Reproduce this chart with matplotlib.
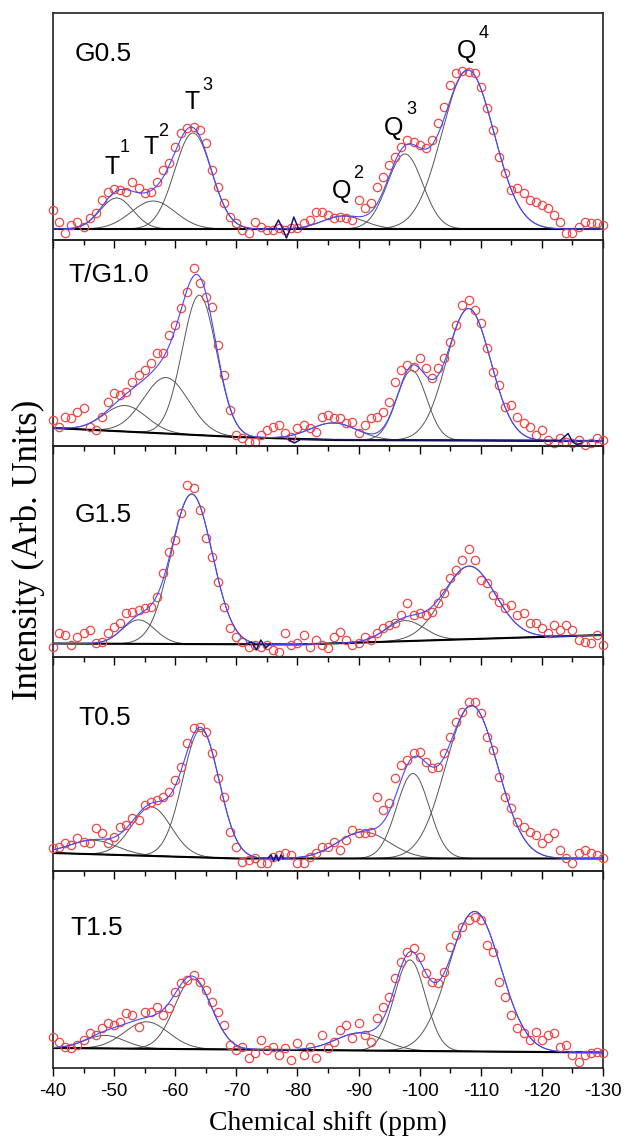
import numpy as np
import matplotlib.pyplot as plt
from matplotlib.ticker import MultipleLocator

plt.rcParams['font.family'] = ['Liberation Sans', 'DejaVu Sans']
plt.rcParams['axes.unicode_minus'] = False

# chemical shift of the sampled points (ppm)
ppm = np.arange(-40, -131, -1)

# measured spectra (arb. units), one value per ppm from -40 to -130
g05 = [30, 18, 7, 15, 18, 13, 22, 27, 40, 48,
       51, 50, 48, 58, 52, 47, 48, 58, 70, 77,
       93, 107, 112, 113, 110, 97, 70, 53, 37, 23,
       17, 10, 7, 18, 13, 10, 10, 12, 10, 12,
       12, 17, 20, 28, 28, 25, 22, 23, 22, 20,
       40, 32, 37, 53, 63, 75, 83, 93, 100, 98,
       95, 92, 100, 117, 133, 155, 167, 169, 168, 167,
       153, 132, 110, 83, 67, 50, 52, 47, 40, 38,
       35, 32, 25, 18, 7, 7, 13, 18, 17, 17,
       15]
tg10 = [26, 19, 29, 28, 34, 38, 19, 16, 29, 44,
        53, 51, 54, 64, 71, 76, 83, 93, 93, 111,
        121, 138, 154, 178, 163, 149, 139, 101, 71, 36,
        11, 8, 4, 4, 11, 16, 19, 21, 13, 9,
        18, 21, 18, 14, 29, 31, 28, 28, 23, 24,
        13, 21, 28, 29, 34, 44, 64, 76, 81, 79,
        88, 78, 68, 78, 88, 104, 121, 141, 146, 136,
        123, 98, 74, 61, 39, 41, 29, 23, 19, 11,
        16, 6, 3, 8, 4, 3, 6, 1, 3, 8,
        6]
g15 = [10, 24, 22, 12, 20, 24, 27, 14, 15, 24,
       30, 34, 44, 45, 47, 49, 50, 60, 84, 105,
       117, 144, 172, 169, 147, 119, 100, 75, 50, 29,
       20, 15, 10, 12, 10, 12, 7, 5, 24, 12,
       14, 22, 10, 17, 12, 9, 20, 25, 17, 12,
       14, 20, 17, 24, 29, 32, 34, 42, 54, 42,
       44, 42, 45, 54, 64, 79, 87, 97, 108, 97,
       77, 74, 62, 55, 49, 52, 42, 44, 34, 34,
       29, 24, 32, 27, 32, 27, 17, 15, 14, 22,
       12]
t05 = [23, 24, 28, 26, 33, 29, 28, 43, 38, 28,
       34, 44, 46, 53, 51, 66, 69, 71, 74, 79,
       91, 104, 128, 143, 144, 139, 118, 93, 74, 39,
       24, 9, 11, 13, 8, 8, 14, 16, 18, 16,
       8, 8, 14, 18, 24, 24, 29, 21, 31, 41,
       38, 38, 39, 74, 61, 68, 93, 106, 111, 118,
       119, 109, 103, 104, 118, 134, 149, 159, 169, 169,
       158, 134, 121, 94, 74, 63, 49, 44, 39, 36,
       28, 33, 38, 21, 13, 8, 18, 21, 18, 16,
       13]
t15 = [31, 26, 21, 20, 23, 28, 35, 33, 40, 45,
       43, 46, 55, 53, 41, 56, 56, 61, 53, 60,
       76, 85, 88, 93, 86, 78, 66, 56, 43, 23,
       18, 21, 10, 15, 28, 18, 21, 13, 20, 8,
       25, 13, 21, 10, 33, 20, 26, 38, 43, 30,
       45, 33, 26, 50, 61, 71, 90, 106, 116, 120,
       111, 95, 86, 85, 96, 121, 133, 141, 148, 151,
       148, 123, 116, 86, 71, 53, 40, 35, 28, 36,
       28, 33, 35, 21, 23, 13, 6, 13, 15, 16,
       15]

# fitted components: centre (ppm), height above baseline, FWHM (ppm)
g05_pos = [-50.4, -56.4, -62.9, -87.5, -97.6, -107.9]
g05_amp = [31, 28, 96, 13, 75, 159]
g05_fw = [6.3, 8.5, 7.1, 8.0, 6.8, 10.0]
tg10_pos = [-51.8, -58.5, -63.95, -85.9, -98.7, -108.0]
tg10_amp = [26, 56, 140, 17, 70, 132]
tg10_fw = [8.2, 8.7, 6.6, 9.0, 5.7, 8.5]
g15_pos = [-54.0, -62.7, -97.6, -108.1]
g15_amp = [24, 150, 20.5, 73]
g15_fw = [6.3, 7.9, 7.4, 10.0]
t05_pos = [-46.6, -56.1, -64.2, -90.8, -98.9, -108.5]
t05_amp = [14, 49, 128, 26.6, 85, 153]
t05_fw = [9.0, 7.6, 7.0, 10.0, 6.3, 10.0]
t15_pos = [-48.5, -55.3, -62.9, -90.2, -98.4, -109.0]
t15_amp = [13, 27, 70, 17.5, 91, 140]
t15_fw = [7.6, 8.5, 7.1, 9.3, 6.0, 10.0]

# baselines (vertices)
g05_bx, g05_by = [-40, -130], [11, 11]
tg10_bx, tg10_by = [-40, -70, -86, -130], [18, 9, 6, 5]
g15_bx, g15_by = [-40, -80, -130], [13.5, 12.5, 22]
t05_bx, t05_by = [-40, -70, -130], [18, 12.5, 12.5]
t15_bx, t15_by = [-40, -130], [20, 15.5]

# spikes in the fitted trace
g05_wx = [-75.5, -76.1, -76.9, -77.6, -78.2, -78.8, -79.4, -80.2, -81]
g05_wy = [11, 11, 20, 11, 2, 11, 23, 11, 11]
tg10_wx = [-78.5, -79.5, -80.5, -123, -124.3, -125, -125.7, -126.5]
tg10_wy = [6.5, 3, 6.5, 5.5, 12.5, 4, 1.5, 3]
g15_wx = [-71.5, -72.5, -73.3, -74.0, -74.8, -75.5]
g15_wy = [13, 15, 7, 17, 9, 13]
t05_wx = [-75.2, -75.7, -76.1, -76.5, -76.9, -77.3, -77.7]
t05_wy = [13, 16, 10, 16, 10, 16, 12.5]
t15_wx, t15_wy = [], []

names = ['G0.5', 'T/G1.0', 'G1.5', 'T0.5', 'T1.5']
name_x = [-43.6, -42.5, -43.6, -44.1, -42.8]
name_y = [186, 171, 142, 153, 140]
panel_h = [227, 206, 211, 214, 197]

panels = [
    (g05, g05_pos, g05_amp, g05_fw, g05_bx, g05_by, g05_wx, g05_wy),
    (tg10, tg10_pos, tg10_amp, tg10_fw, tg10_bx, tg10_by, tg10_wx, tg10_wy),
    (g15, g15_pos, g15_amp, g15_fw, g15_bx, g15_by, g15_wx, g15_wy),
    (t05, t05_pos, t05_amp, t05_fw, t05_bx, t05_by, t05_wx, t05_wy),
    (t15, t15_pos, t15_amp, t15_fw, t15_bx, t15_by, t15_wx, t15_wy),
]

# peak labels on the top panel
lab_txt = ['T', 'T', 'T', 'Q', 'Q', 'Q']
lab_sup = ['1', '2', '3', '2', '3', '4']
lab_x = [-49.7, -56.0, -62.7, -87.2, -95.7, -107.7]
lab_y = [73, 93, 138, 49, 112, 189]
sup_x = [-51.8, -58.1, -65.2, -90.0, -98.7, -110.4]
sup_y = [92, 108, 155, 67, 130, 207]


def gauss(x, c, a, w):
    return a * np.exp(-4 * np.log(2) * (x - c) ** 2 / w ** 2)


fig = plt.figure(figsize=(6.29, 11.37), dpi=100)
gs = fig.add_gridspec(5, 1, height_ratios=panel_h, hspace=0,
                      left=53 / 629, right=603 / 629,
                      top=1 - 13 / 1137, bottom=1 - 1068 / 1137)

grid = np.linspace(-40, -130, 1201)
axes = []
for i, (y, pos, amp, fw, bx, by, wx, wy) in enumerate(panels):
    ax = fig.add_subplot(gs[i])
    ax.set_facecolor('none')
    base = np.interp(grid, bx[::-1], by[::-1])
    total = base.copy()
    for c, a, w in zip(pos, amp, fw):
        comp = gauss(grid, c, a, w)
        total += comp
        ax.plot(grid, base + comp, color='#555555', lw=0.7, zorder=2)
    ax.plot(bx, by, color='black', lw=1.5, zorder=3)
    ax.plot(ppm, y, 'o', ms=6, mfc='none', mec='#f04848', mew=0.9,
            zorder=4, clip_on=False)
    ax.plot(grid, total, color='#4646ff', lw=0.8, zorder=5)
    if wx:
        ax.plot(wx, wy, color='#15157a', lw=1.1, zorder=6)
    ax.text(name_x[i], name_y[i], names[i], fontsize=19, va='center', ha='left')

    ax.set_xlim(-40, -130)
    ax.set_ylim(0, panel_h[i])
    ax.set_yticks([])
    ax.xaxis.set_major_locator(MultipleLocator(10))
    ax.xaxis.set_minor_locator(MultipleLocator(5))
    ax.tick_params(axis='x', which='major', direction='out', length=6,
                   width=1, pad=5, labelsize=13.5)
    ax.tick_params(axis='x', which='minor', direction='out', length=3.5, width=1)
    if i < 4:
        ax.tick_params(axis='x', labelbottom=False)
    for s in ax.spines.values():
        s.set_linewidth(1.2)
        s.set_color('#222222')
    axes.append(ax)

for t, s, x, y, sx, sy in zip(lab_txt, lab_sup, lab_x, lab_y, sup_x, sup_y):
    axes[0].text(x, y, t, fontsize=18, ha='center', va='center')
    axes[0].text(sx, sy, s, fontsize=13, ha='center', va='center')

fig.text(0.045, 1 - 550 / 1137, 'Intensity (Arb. Units)', rotation=90,
         ha='center', va='center', fontsize=25, family='Liberation Serif')
fig.text(328 / 629, 1 - 1123 / 1137, 'Chemical shift (ppm)',
         ha='center', va='center', fontsize=20, family='Liberation Serif')

fig.savefig('out.png', dpi=100)
